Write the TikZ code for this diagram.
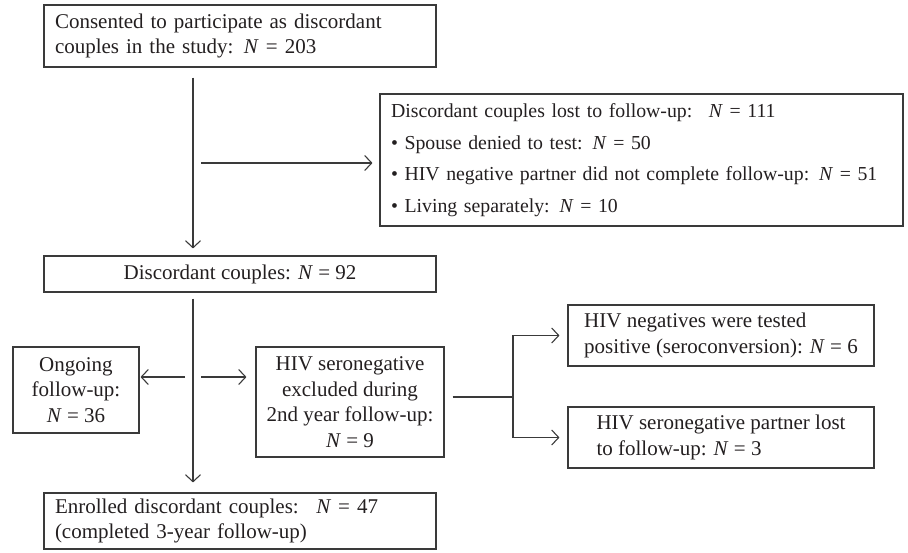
\documentclass[tikz,border=0pt]{standalone}
\usepackage{fontspec}
\setmainfont{Liberation Serif}
\usetikzlibrary{arrows.meta}
\definecolor{lc}{HTML}{3A3A3A}
\definecolor{tc}{HTML}{231F20}
\newcommand{\fsz}{\fontsize{21}{25.5}\selectfont}
\newcommand{\fszb}{\fontsize{19.8}{31.5}\selectfont\spaceskip=0.22em plus 0.1em minus 0.05em\relax}
\newcommand{\NN}{\textit{N} = }
\begin{document}
\begin{tikzpicture}[x=1pt,y=-1pt,
  box/.style={draw=lc, line width=1.1pt, inner ysep=0pt, inner xsep=11pt, text=tc, font=\fsz},
  arr/.style={draw=lc, line width=1.1pt, -{Straight Barb[length=7pt,width=15pt,line width=1.1pt]}},
  ln/.style={draw=lc, line width=1.1pt}]
\useasboundingbox (0,0) rectangle (908,552);
\node[box, text width=370, align=left, minimum height=62] (c1) at (240,36)
  {Consented to participate as discordant\\couples in the study: \NN 203};
\node[box, font=\fszb, text width=501, align=left, minimum height=132] (lost) at (641.5,160)
  {\mbox{Discordant couples lost to follow-up: \ \NN 111}\\
   \mbox{• Spouse denied to test: \NN 50}\\
   \mbox{• HIV negative partner did not complete follow-up: \NN 51}\\
   \mbox{• Living separately: \NN 10}};
\node[box, minimum width=392, minimum height=36, align=center] (d92) at (240,274)
  {Discordant couples: \NN 92};
\node[box, inner xsep=0pt, minimum width=126, minimum height=86, align=center] (ong) at (76,390)
  {Ongoing\\follow-up:\\\NN 36};
\node[box, inner xsep=0pt, minimum width=188, minimum height=110, align=center] (exc) at (350,402)
  {HIV seronegative\\excluded during\\2nd year follow-up:\\\NN 9};
\node[box, inner xsep=0pt, minimum width=306, minimum height=61, align=left] (sero) at (721,335.5)
  {HIV negatives were tested\\positive (seroconversion): \NN 6};
\node[box, inner xsep=0pt, minimum width=306, minimum height=61, align=left] (lostp) at (721,437.5)
  {HIV seronegative partner lost\\to follow-up: \NN 3};
\node[box, text width=370, align=left, minimum height=56] (enr) at (240,521)
  {Enrolled discordant couples: \ \NN 47\\(completed 3-year follow-up)};
\coordinate (v1) at (193,0);
\coordinate (h1) at (201,163);
\coordinate (l1) at (185,377);
\coordinate (r1) at (201,377);
\coordinate (j) at (513,397);
\draw[arr, shorten <=10pt, shorten >=7pt] (c1.south -| v1) -- (d92.north -| v1);
\draw[arr, shorten >=7pt] (h1) -- (lost.west |- h1);
\draw[arr, shorten <=6pt, shorten >=10pt] (d92.south -| v1) -- (enr.north -| v1);
\draw[arr, shorten >=1pt] (l1) -- (ong.east |- l1);
\draw[arr, shorten >=9pt] (r1) -- (exc.west |- r1);
\draw[ln, shorten <=8pt] (exc.east |- j) -- (j);
\draw[arr, shorten >=8pt] (j) |- (sero.west);
\draw[arr, shorten >=8pt] (j) |- (lostp.west);
\end{tikzpicture}
\end{document}
